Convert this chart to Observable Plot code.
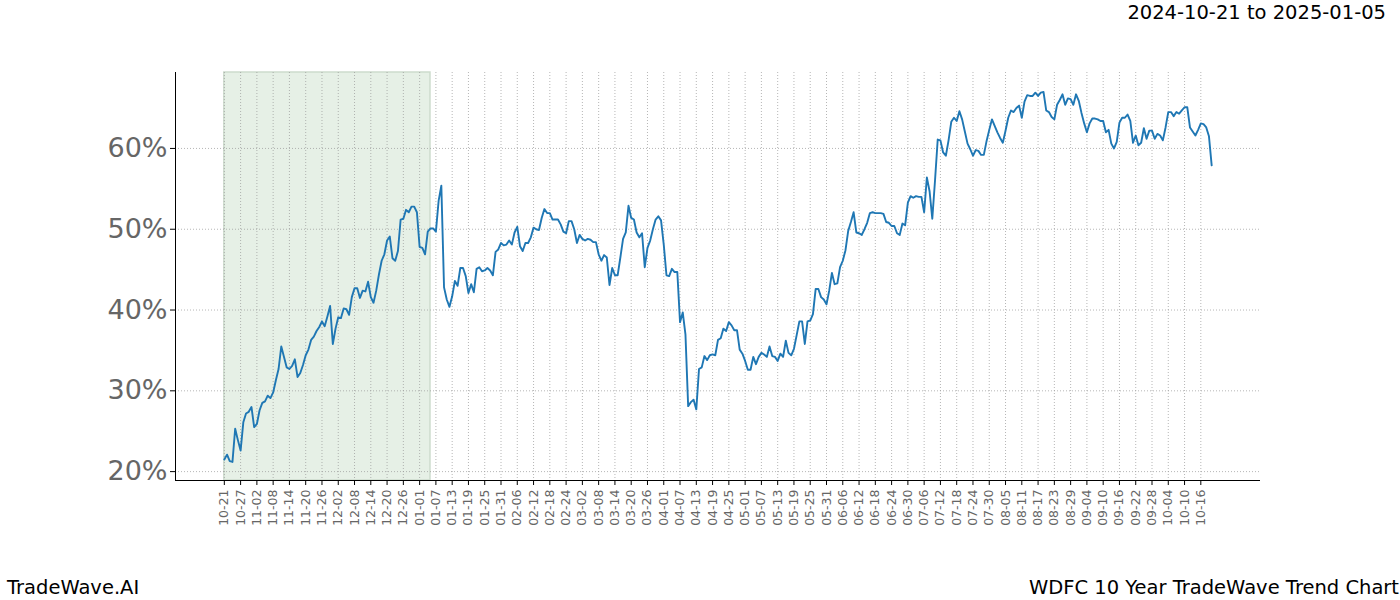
<!DOCTYPE html>
<html>
<head>
<meta charset="utf-8">
<script src="https://cdn.jsdelivr.net/npm/d3@7"></script>
<script src="https://cdn.jsdelivr.net/npm/@observablehq/plot@0.6"></script>
<style>
  html, body { margin: 0; padding: 0; background: #fff; }
  #wrap { position: relative; width: 1400px; height: 600px; font-family: "DejaVu Sans", sans-serif; }
  .lbl { position: absolute; font-size: 19.5px; color: #000; white-space: nowrap; line-height: 1; }
</style>
</head>
<body>
<div id="wrap">
  <div class="lbl" id="title" style="right:14px; top:3px;">2024-10-21 to 2025-01-05</div>
  <div class="lbl" id="left" style="left:7px; top:578px;">TradeWave.AI</div>
  <div class="lbl" id="right" style="right:1px; top:578px;">WDFC 10 Year TradeWave Trend Chart</div>
</div>
<script>
// ---- data ----
const startDate = "2024-10-21";
const shadeStart = "2024-10-21";
const shadeEnd = "2025-01-05";
const xDomain = ["2024-10-03", "2025-11-07"];
const yDomain = [18.9, 69.4];
const yTicks = [20, 30, 40, 50, 60];
// daily trend values (%), one per calendar day from startDate
const values = [
  21.5,22.1,21.3,21.2,25.3,23.9,22.6,26.1,27.2,27.4,
  28.0,25.5,25.9,27.6,28.5,28.7,29.4,29.1,29.8,31.3,
  32.7,35.5,34.2,32.9,32.7,33.1,33.9,31.7,32.2,33.2,
  34.4,35.1,36.3,36.7,37.4,37.9,38.6,38.0,39.2,40.5,
  35.8,37.7,39.1,39.0,40.2,40.1,39.4,41.6,42.7,42.7,
  41.5,42.4,42.3,43.5,41.6,40.9,42.4,44.4,46.1,46.9,
  48.6,49.1,46.4,46.1,47.3,51.2,51.3,52.4,52.1,52.8,
  52.8,52.1,47.8,47.7,46.9,49.7,50.1,50.1,49.7,53.5,
  55.4,42.8,41.3,40.4,41.7,43.6,43.0,45.2,45.2,44.2,
  42.1,43.2,42.2,45.1,45.3,44.8,44.9,45.2,44.9,44.3,
  47.2,47.5,48.3,48.0,48.1,48.6,48.1,49.6,50.3,47.9,
  47.3,48.3,48.3,49.0,50.2,50.0,49.9,51.4,52.5,52.0,
  52.0,51.2,51.2,51.2,50.6,49.7,49.5,51.0,51.0,50.0,
  48.3,49.3,48.8,48.6,48.8,48.7,48.4,48.4,46.9,46.1,
  46.8,46.5,43.1,45.2,44.3,44.3,46.5,48.8,49.6,52.9,
  51.4,51.2,49.6,49.0,49.5,45.3,47.7,48.6,50.0,51.2,
  51.6,51.1,48.1,44.3,44.2,45.1,44.7,44.7,38.5,39.7,
  37.0,28.1,28.6,28.9,27.7,32.7,32.9,34.3,33.8,34.4,
  34.5,34.4,36.3,36.5,37.7,37.4,38.5,38.1,37.5,37.5,
  35.1,34.6,33.7,32.6,32.6,34.2,33.3,34.2,34.7,34.5,
  34.2,35.5,34.3,34.2,33.7,34.6,34.2,36.2,34.7,34.4,
  35.2,36.9,38.6,38.6,35.8,38.6,38.7,39.5,42.6,42.6,
  41.6,41.3,40.7,42.4,44.6,43.2,43.3,45.3,46.1,47.4,
  49.8,50.9,52.1,49.6,49.5,49.3,50.0,50.8,52.0,52.1,
  52.0,52.0,52.0,51.9,50.9,50.8,50.4,50.4,49.5,49.3,
  50.7,50.5,53.3,54.1,53.9,54.1,54.0,54.0,52.1,56.4,
  54.7,51.3,56.0,61.1,61.0,59.5,59.1,61.0,63.3,63.8,
  63.4,64.6,63.6,62.1,60.6,59.9,59.1,59.8,59.7,59.2,
  59.2,60.9,62.3,63.6,62.8,62.0,61.3,60.7,62.2,63.8,
  64.7,64.5,65.0,65.3,63.8,65.8,66.6,66.5,66.5,66.9,
  66.5,66.9,67.0,64.7,64.5,63.9,63.6,65.4,66.0,66.7,
  65.4,66.2,66.1,65.4,66.7,65.9,64.4,63.1,62.0,63.1,
  63.7,63.7,63.6,63.4,63.4,62.0,62.3,60.6,60.0,60.8,
  63.2,63.8,63.8,64.2,63.4,60.7,61.6,60.4,60.7,62.5,
  61.2,62.2,62.2,61.2,61.8,61.6,61.0,62.6,64.5,64.5,
  64.0,64.5,64.3,64.7,65.1,65.1,62.6,62.1,61.6,62.3,
  63.1,63.0,62.6,61.5,57.9
];
const tickCount = 61;      // labelled every 6 days
const tickStep = 6;

// ---- build ----
const parse = d3.utcParse("%Y-%m-%d");
const t0 = parse(startDate);
const series = values.map((v, i) => ({date: d3.utcDay.offset(t0, i), value: v}));
const xTicks = d3.range(tickCount).map(i => d3.utcDay.offset(t0, i * tickStep));
const xd = xDomain.map(parse);

const chart = Plot.plot({
  width: 1400,
  height: 600,
  marginLeft: 175,
  marginRight: 140,
  marginTop: 72,
  marginBottom: 120,
  style: {fontFamily: "DejaVu Sans, sans-serif", background: "transparent"},
  x: {type: "utc", domain: xd},
  y: {domain: yDomain},
  marks: [
    Plot.rect([{x1: parse(shadeStart), x2: parse(shadeEnd)}], {
      x1: "x1", x2: "x2", fill: "#e6f0e6", stroke: "#cddbcd", strokeWidth: 1.5
    }),
    Plot.gridX({ticks: xTicks, stroke: "#999", strokeOpacity: 0.9, strokeWidth: 0.8, strokeDasharray: "1,2"}),
    Plot.gridY({ticks: yTicks, stroke: "#999", strokeOpacity: 0.9, strokeWidth: 0.8, strokeDasharray: "1,2"}),
    Plot.line(series, {x: "date", y: "value", stroke: "#1f77b4", strokeWidth: 1.9}),
    Plot.ruleX([xd[0]], {stroke: "black", strokeWidth: 1}),
    Plot.ruleY([yDomain[0]], {stroke: "black", strokeWidth: 1}),
    Plot.axisY({ticks: yTicks, tickFormat: d => d + "%", fontSize: 27, tickSize: 5, tickPadding: 3,
      stroke: "black", fill: "#666", label: null}),
    Plot.axisX({ticks: xTicks, tickFormat: d3.utcFormat("%m-%d"), tickRotate: -90, fontSize: 12.5,
      tickSize: 5, tickPadding: 4, stroke: "black", fill: "#666", label: null})
  ]
});
chart.style.position = "absolute";
chart.style.left = "0";
chart.style.top = "0";
document.getElementById("wrap").prepend(chart);
</script>
</body>
</html>
